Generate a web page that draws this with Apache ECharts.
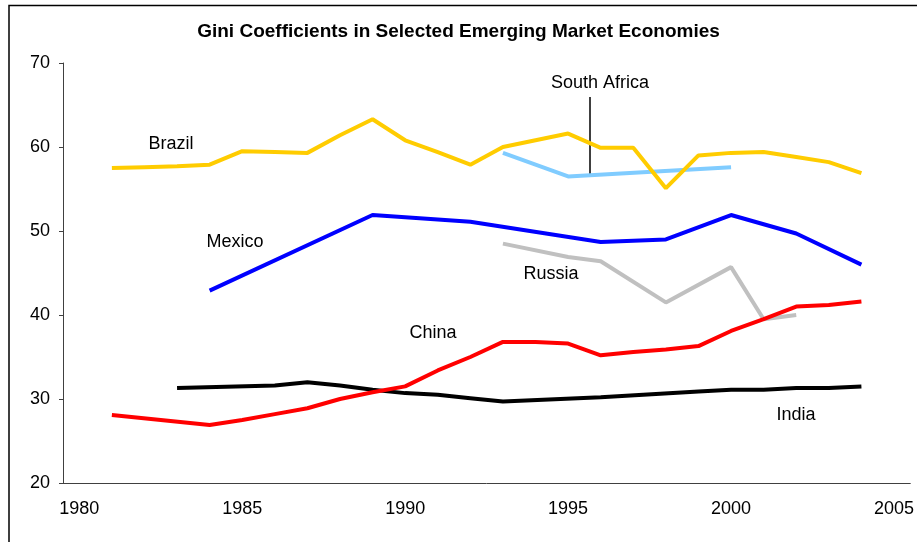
<!DOCTYPE html>
<html>
<head>
<meta charset="utf-8">
<script src="https://cdn.jsdelivr.net/npm/echarts@6/dist/echarts.min.js"></script>
<style>
  html, body { margin: 0; padding: 0; background: #fff; }
  #chart { width: 917px; height: 542px; }
</style>
</head>
<body>
<div id="chart"></div>
<script>
// years on the category axis, 1980..2005
const years = ['1980', '1981', '1982', '1983', '1984', '1985', '1986', '1987', '1988', '1989',
    '1990', '1991', '1992', '1993', '1994', '1995', '1996', '1997', '1998', '1999',
    '2000', '2001', '2002', '2003', '2004', '2005'];

const brazil = [null, 57.5, 57.6, 57.7, 57.9, 59.5, 59.4, 59.3, 61.4, 63.3,
    60.8, 59.4, 57.9, 60.0, 60.8, 61.6, 59.9, 59.9, 55.1, 59.0,
    59.3, 59.4, 58.8, 58.2, 56.9, null];
const southAfrica = [null, null, null, null, null, null, null, null, null, null,
    null, null, null, 59.3, null, 56.5, null, null, null, null,
    57.6, null, null, null, null, null];
const mexico = [null, null, null, null, 42.9, null, null, null, null, 51.9,
    null, null, 51.1, null, null, null, 48.7, null, 49.0, null,
    51.9, null, 49.7, null, 46.0, null];
const russia = [null, null, null, null, null, null, null, null, null, null,
    null, null, null, 48.5, null, 46.9, 46.4, null, 41.5, null,
    45.7, 39.5, 40.0, null, null, null];
const china = [null, 28.1, null, null, 26.9, 27.5, 28.2, 28.9, 30.0, 30.8,
    31.5, 33.4, 35.0, 36.8, 36.8, 36.6, 35.2, 35.6, 35.9, 36.3,
    38.1, 39.5, 41.0, 41.2, 41.6, null];
const india = [null, null, null, 31.3, null, null, 31.6, 32.0, 31.6, 31.1,
    30.7, 30.5, 30.1, 29.7, null, null, 30.2, null, null, 30.9,
    31.1, 31.1, 31.3, 31.3, 31.5, null];

const yTicks = { min: 20, max: 70, step: 10 };

const fontName = 'Liberation Sans, Arial, sans-serif';

function line(name, data, color) {
    return {
        name: name,
        type: 'line',
        data: data,
        connectNulls: true,
        symbol: 'none',
        lineStyle: { color: color, width: 4 },
        itemStyle: { color: color }
    };
}

function label(text, x, y) {
    return {
        type: 'text',
        x: x,
        y: y,
        style: {
            text: text,
            fill: '#000',
            font: '18px ' + fontName,
            align: 'center',
            verticalAlign: 'middle'
        }
    };
}

var myChart = echarts.init(document.getElementById('chart'));
var option = {
    animation: false,
    backgroundColor: '#fff',
    textStyle: { fontFamily: fontName },
    title: {
        text: 'Gini Coefficients in Selected Emerging Market Economies',
        left: 'center',
        top: 22,
        padding: 0,
        textStyle: {
            fontFamily: fontName,
            fontSize: 19,
            fontWeight: 'bold',
            color: '#000'
        }
    },
    grid: {
        left: 63,
        right: 6,
        top: 63,
        bottom: 59
    },
    xAxis: {
        type: 'category',
        data: years,
        boundaryGap: true,
        axisLine: { lineStyle: { color: '#404040', width: 1 } },
        axisTick: { interval: 0, length: 4, lineStyle: { color: '#404040' } },
        axisLabel: { interval: 4, margin: 17, fontSize: 18, color: '#000' },
        splitLine: { show: false }
    },
    yAxis: {
        type: 'value',
        min: yTicks.min,
        max: yTicks.max,
        interval: yTicks.step,
        axisLine: { show: true, lineStyle: { color: '#404040', width: 1 } },
        axisTick: { show: true, length: 4, lineStyle: { color: '#404040' } },
        axisLabel: { margin: 13, fontSize: 18, color: '#000' },
        splitLine: { show: false }
    },
    series: [
        line('South Africa', southAfrica, '#80CCFF'),
        line('Brazil', brazil, '#FFCC00'),
        line('Mexico', mexico, '#0000FF'),
        line('Russia', russia, '#C0C0C0'),
        line('India', india, '#000000'),
        line('China', china, '#FF0000')
    ],
    graphic: [
        {
            type: 'rect',
            shape: { x: 9, y: 5.5, width: 930, height: 560 },
            style: { fill: 'none', stroke: '#000', lineWidth: 1.5 },
            silent: true
        },
        label('Brazil', 171, 144),
        label('Mexico', 235, 242),
        label('South Africa', 600, 83),
        label('Russia', 551, 274),
        label('China', 433, 333),
        label('India', 796, 415),
        {
            type: 'line',
            shape: { x1: 590, y1: 97, x2: 590, y2: 176 },
            style: { stroke: '#000', lineWidth: 1.5 }
        }
    ]
};
myChart.setOption(option);
</script>
</body>
</html>
